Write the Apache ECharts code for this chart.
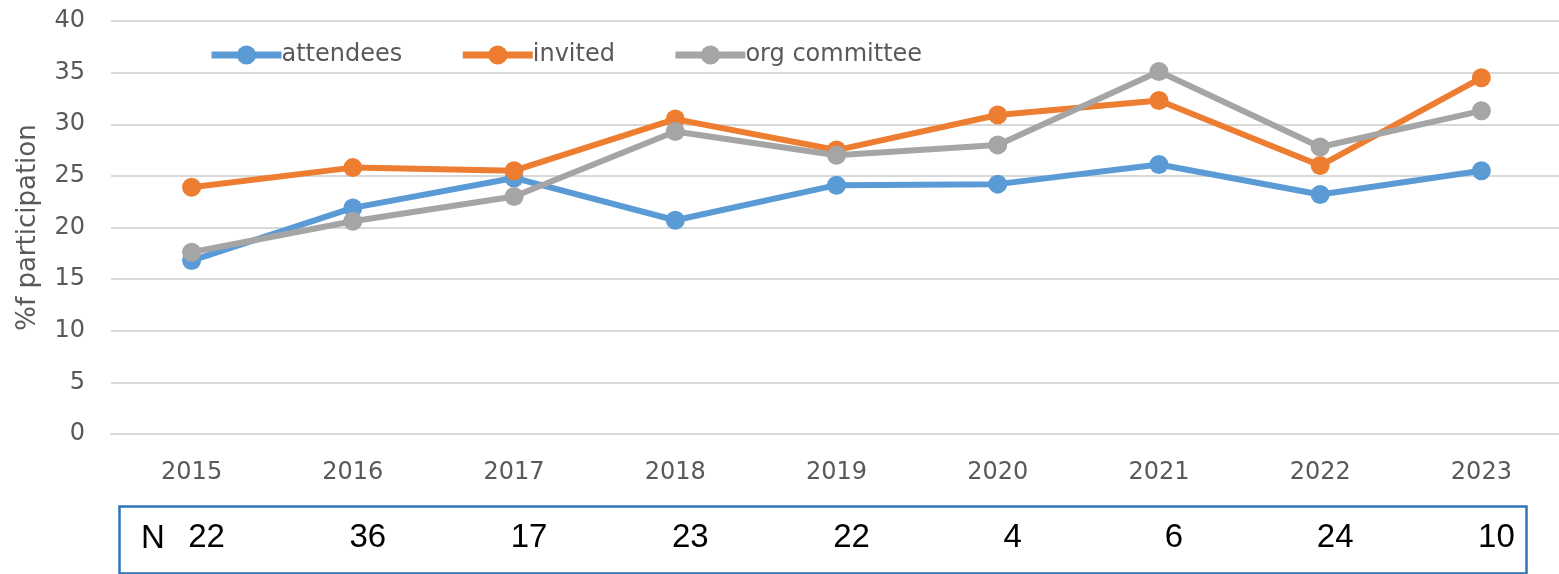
<!DOCTYPE html>
<html>
<head>
<meta charset="utf-8">
<script src="https://cdn.jsdelivr.net/npm/echarts@6/dist/echarts.min.js"></script>
<style>
html,body{margin:0;padding:0;background:#fff;}
#chart{width:1559px;height:574px;}
</style>
</head>
<body>
<div id="chart"></div>
<script>
var categories = ['2015','2016','2017','2018','2019','2020','2021','2022','2023'];
var attendees = [16.8, 21.9, 24.8, 20.7, 24.1, 24.2, 26.1, 23.2, 25.5];
var invited = [23.9, 25.8, 25.5, 30.5, 27.5, 30.9, 32.3, 26.0, 34.5];
var orgCommittee = [17.6, 20.6, 23.0, 29.3, 27.0, 28.0, 35.1, 27.8, 31.3];
var nValues = ['22','36','17','23','22','4','6','24','10'];
var yTicks = { min: 0, max: 40, interval: 5 };

var chart = echarts.init(document.getElementById('chart'), null, {renderer:'canvas'});
var FONT = 'DejaVu Sans';
function lineSeries(name, data, color) {
  return {
    name: name, type: 'line', data: data,
    symbol: 'circle', symbolSize: 19,
    lineStyle: { color: color, width: 6 },
    itemStyle: { color: color },
    emphasis: { disabled: true },
    animation: false
  };
}
chart.setOption({
  backgroundColor: '#ffffff',
  animation: false,
  grid: { left: 111, top: 21, width: 1451, bottom: 140, containLabel: false, outerBoundsMode: 'none' },
  legend: {
    left: 203, top: 38,
    itemWidth: 70, itemHeight: 24, itemGap: 57,
    lineStyle: { width: 7 },
    textStyle: { fontFamily: FONT, fontSize: 24, color: '#595959', padding: [0,0,0,-5] },
    data: ['attendees','invited','org committee']
  },
  xAxis: [{
    type: 'category', data: categories, boundaryGap: true,
    axisLine: { show: true, lineStyle: { color: '#D9D9D9', width: 2 } },
    axisTick: { show: false },
    axisLabel: { fontFamily: FONT, fontSize: 24, color: '#595959', margin: 27 }
  }, {
    type: 'category', data: nValues, boundaryGap: true, position: 'bottom',
    axisLine: { show: false }, axisTick: { show: false }, splitLine: { show: false },
    axisLabel: { fontFamily: 'Liberation Sans', fontSize: 33, color: '#000000', margin: 87, padding: [0,0,0,30] }
  }],
  yAxis: {
    type: 'value', min: yTicks.min, max: yTicks.max, interval: yTicks.interval,
    name: '%f participation', nameLocation: 'middle', nameGap: 70, nameRotate: 90,
    nameTextStyle: { fontFamily: FONT, fontSize: 26, color: '#595959' },
    axisLine: { show: false }, axisTick: { show: false },
    axisLabel: { fontFamily: FONT, fontSize: 24, color: '#595959', margin: 26 },
    splitLine: { lineStyle: { color: '#D9D9D9', width: 2 } }
  },
  series: [
    lineSeries('attendees', attendees, '#5B9BD5'),
    lineSeries('invited', invited, '#ED7D31'),
    lineSeries('org committee', orgCommittee, '#A5A5A5')
  ],
  graphic: [
    { type: 'rect', left: 117, top: 504, shape: { width: 1407, height: 67 },
      style: { fill: 'none', stroke: '#2E75B6', lineWidth: 2.5 } },
    { type: 'text', left: 141, top: 522,
      style: { text: 'N', font: '33px "Liberation Sans"', fill: '#000000' } }
  ]
});
</script>
</body>
</html>
